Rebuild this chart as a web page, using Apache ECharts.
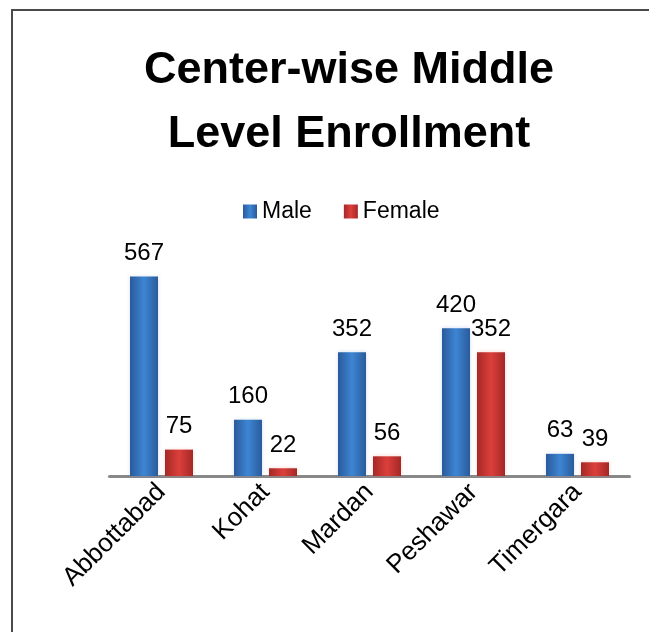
<!DOCTYPE html>
<html>
<head>
<meta charset="utf-8">
<script src="https://cdn.jsdelivr.net/npm/echarts@6/dist/echarts.min.js"></script>
<style>
  html, body { margin: 0; padding: 0; background: #fff; }
  #chart { width: 649px; height: 632px; }
</style>
</head>
<body>
<div id="chart"></div>
<script>
// data
const centers = ["Abbottabad", "Kohat", "Mardan", "Peshawar", "Timergara"];
const male = [567, 160, 352, 420, 63];
const female = [75, 22, 56, 352, 39];
const seriesNames = ["Male", "Female"];

const font = "Liberation Sans, Arial, sans-serif";

function barFill(edge, mid) {
    return {
        type: "linear", x: 0, y: 0, x2: 1, y2: 0,
        colorStops: [
            { offset: 0, color: edge },
            { offset: 0.5, color: mid },
            { offset: 1, color: edge }
        ]
    };
}

const chart = echarts.init(document.getElementById("chart"));

const option = {
    backgroundColor: "#fff",
    animation: false,
    // frame around the chart
    graphic: [
        {
            type: "rect",
            shape: { x: 12, y: 10, width: 700, height: 700 },
            style: { fill: "none", stroke: "#4a4a4a", lineWidth: 2 }
        }
    ],
    title: {
        text: "Center-wise Middle\nLevel Enrollment",
        left: 344,
        top: 34,
        textAlign: "center",
        textStyle: {
            fontFamily: font,
            fontWeight: "bold",
            fontSize: 45,
            lineHeight: 64,
            color: "#000"
        }
    },
    legend: {
        data: seriesNames,
        left: 238,
        top: 195,
        icon: "rect",
        itemWidth: 14,
        itemHeight: 14,
        itemGap: 32,
        textStyle: { fontFamily: font, fontSize: 23, color: "#000" }
    },
    grid: {
        left: 109.5,
        right: 19.5,
        top: 265,
        bottom: 156,
        containLabel: false
    },
    xAxis: {
        type: "category",
        data: centers,
        axisLine: { lineStyle: { color: "#888", width: 3 } },
        axisTick: { show: false },
        axisLabel: {
            rotate: 45,
            margin: 12,
            fontFamily: font,
            fontSize: 26,
            color: "#000"
        }
    },
    yAxis: {
        type: "value",
        min: 0,
        max: 600,
        show: false,
        splitLine: { show: false }
    },
    series: [
        {
            name: "Male",
            type: "bar",
            data: male,
            barWidth: 28,
            barGap: "25%",
            itemStyle: {
                color: barFill("#2a5a9a", "#3d86d4"),
                shadowColor: "rgba(80,120,200,0.25)",
                shadowBlur: 4
            },
            label: {
                show: true,
                position: "top",
                distance: 11,
                fontFamily: font,
                fontSize: 24,
                color: "#000"
            }
        },
        {
            name: "Female",
            type: "bar",
            data: female,
            barWidth: 28,
            itemStyle: {
                color: barFill("#a42826", "#dc3f3b"),
                shadowColor: "rgba(220,90,80,0.25)",
                shadowBlur: 4
            },
            label: {
                show: true,
                position: "top",
                distance: 11,
                fontFamily: font,
                fontSize: 24,
                color: "#000"
            }
        }
    ]
};

chart.setOption(option);
</script>
</body>
</html>
